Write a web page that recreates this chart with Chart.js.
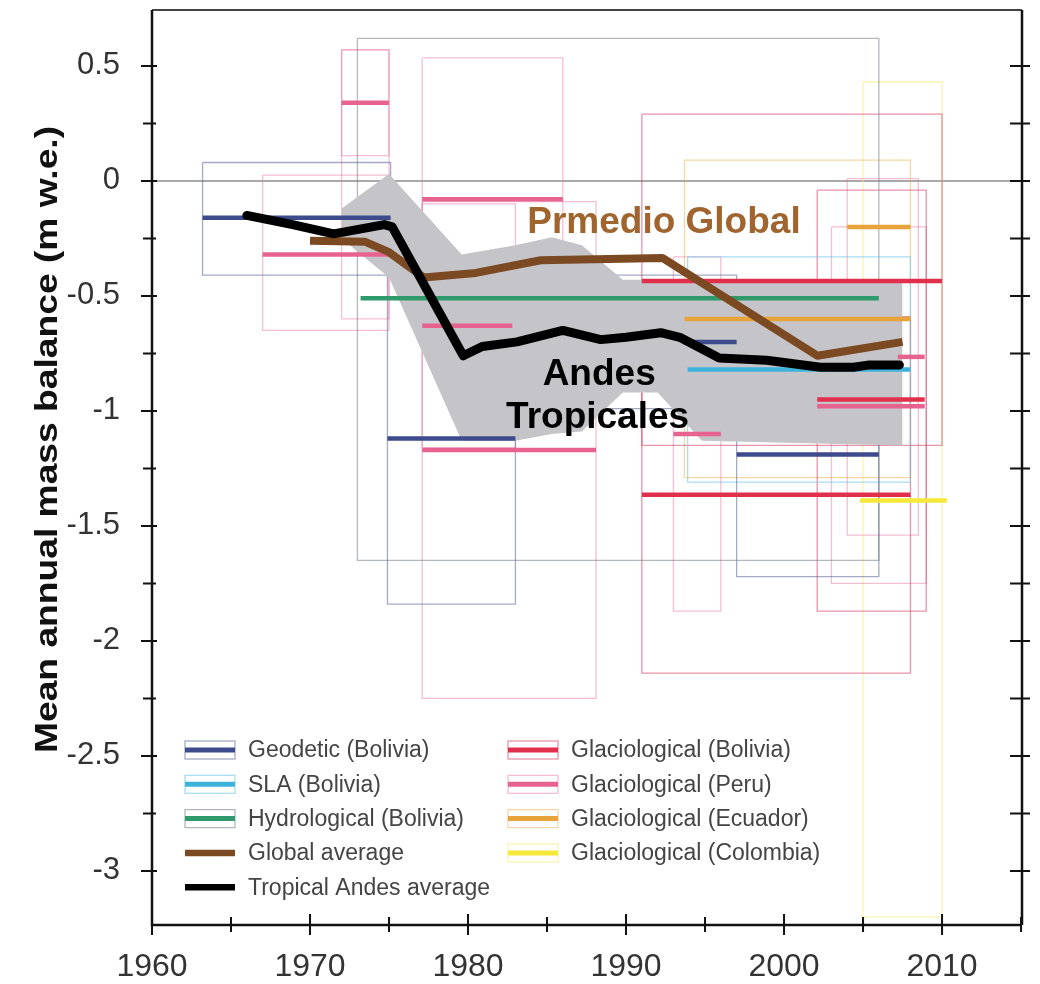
<!DOCTYPE html>
<html>
<head>
<meta charset="utf-8">
<title>Tropical Andes mass balance</title>
<script src="https://cdn.jsdelivr.net/npm/chart.js@4.4.0/dist/chart.umd.min.js"></script>
<style>
  html, body { margin: 0; padding: 0; background: #fff; }
  canvas { display: block; }
</style>
</head>
<body>
<canvas id="myChart" width="1040" height="984"></canvas>
<script>
// ---- data ----
const andesYears = [1966, 1968.9, 1971.5, 1974.7, 1975.2, 1979.7, 1980.9, 1983.1, 1986.0, 1988.4, 1990.0, 1992.2, 1993.4, 1995.9, 1998.9, 2002.3, 2004.4, 2005.4, 2007.3];
const andesValues = [-0.15, -0.19, -0.23, -0.19, -0.2, -0.76, -0.72, -0.70, -0.65, -0.69, -0.68, -0.66, -0.68, -0.77, -0.78, -0.81, -0.81, -0.80, -0.80];

const globalYears = [1970, 1973.5, 1975, 1977.2, 1980.5, 1984.6, 1992.3, 2002.1, 2007.5];
const globalValues = [-0.26, -0.265, -0.31, -0.42, -0.40, -0.345, -0.335, -0.76, -0.70];

// grey envelope around the Tropical Andes average
const bandYears = [1972, 1975, 1979.6, 1983, 1985.3, 1987.2, 1989.8, 1992, 1994.8, 2007.5];
const bandUpper = [-0.12, 0.03, -0.32, -0.28, -0.245, -0.28, -0.43, -0.43, -0.43, -0.43];
const bandLower = [-0.25, -0.42, -1.13, -1.13, -1.10, -1.09, -0.92, -0.92, -1.13, -1.15];

// mean value over each observation period
const segTypes = ["geodetic", "geodetic", "geodetic", "geodetic", "sla", "hydro",
  "glacBolivia", "glacBolivia", "glacBolivia",
  "glacPeru", "glacPeru", "glacPeru", "glacPeru", "glacPeru", "glacPeru", "glacPeru", "glacPeru",
  "glacEcuador", "glacEcuador", "glacColombia"];
const segStart = [1963.2, 1974.9, 1993.6, 1997.0, 1993.9, 1973.2,
  1991.0, 1991.0, 2002.1,
  1972.0, 1967.0, 1977.1, 1977.1, 1977.1, 1993.0, 2007.2, 2002.1,
  1993.7, 2004.0, 2004.8];
const segEnd = [1975.1, 1983.0, 1997.0, 2006.0, 2008.0, 2006.0,
  2010.0, 2008.0, 2008.9,
  1975.0, 1975.0, 1986.0, 1982.8, 1988.1, 1996.0, 2008.9, 2008.9,
  2008.0, 2008.0, 2010.3];
const segValue = [-0.16, -1.12, -0.70, -1.19, -0.82, -0.51,
  -0.435, -1.365, -0.95,
  0.34, -0.32, -0.08, -0.63, -1.17, -1.10, -0.765, -0.98,
  -0.60, -0.20, -1.39];

// uncertainty boxes
const boxTypes = ["geodetic", "geodetic", "geodetic", "geodetic", "sla", "hydro",
  "glacBolivia", "glacBolivia", "glacBolivia",
  "glacPeru", "glacPeru", "glacPeru", "glacPeru", "glacPeru", "glacPeru", "glacPeru", "glacPeru", "glacPeru",
  "glacEcuador", "glacColombia"];
const boxStart = [1963.2, 1974.9, 1983.0, 1997.0, 1993.9, 1973.0,
  1991.0, 1991.0, 2002.1,
  1972.0, 1972.0, 1967.0, 1977.1, 1977.1, 1977.1, 1993.0, 2004.0, 2003.0,
  1993.7, 2005.0];
const boxEnd = [1975.1, 1983.0, 1997.0, 2006.0, 2008.0, 2006.0,
  2010.0, 2008.0, 2009.0,
  1975.0, 1975.0, 1975.0, 1986.0, 1983.0, 1988.1, 1996.0, 2008.5, 2009.0,
  2008.0, 2010.0];
const boxTop = [0.08, -0.40, -0.41, -0.66, -0.33, 0.62,
  0.29, -0.59, -0.04,
  0.57, 0.57, 0.025, 0.535, -0.10, -0.09, -0.33, 0.01, -0.20,
  0.09, 0.43];
const boxBottom = [-0.41, -1.84, -0.99, -1.72, -1.31, -1.65,
  -1.15, -2.14, -1.87,
  0.11, -0.60, -0.65, -0.695, -1.16, -2.25, -1.87, -1.54, -1.75,
  -1.29, -3.20];

const xTicks = [1960, 1970, 1980, 1990, 2000, 2010];
const xTickLabels = ["1960", "1970", "1980", "1990", "2000", "2010"];
const xMinorTicks = [1965, 1975, 1985, 1995, 2005, 2015];
const yTicks = [-3, -2.5, -2, -1.5, -1, -0.5, 0, 0.5];
const yTickLabels = ["-3", "-2.5", "-2", "-1.5", "-1", "-0.5", "0", "0.5"];
const yMinorTicks = [0.25, -0.25, -0.75, -1.25, -1.75, -2.25, -2.75];

const legendTypes = ["geodetic", "sla", "hydro", "global", "andes", "glacBolivia", "glacPeru", "glacEcuador", "glacColombia"];
const legendLabels = ["Geodetic (Bolivia)", "SLA (Bolivia)", "Hydrological (Bolivia)", "Global average", "Tropical Andes average",
  "Glaciological (Bolivia)", "Glaciological (Peru)", "Glaciological (Ecuador)", "Glaciological (Colombia)"];

const annoTexts = ["Prmedio Global", "Andes", "Tropicales"];
const annoYears = [1992.4, 1988.3, 1988.2];
const annoValues = [-0.18, -0.843, -1.03];

const yTitle = "Mean annual mass balance (m w.e.)";

// ---- styles ----
const FONT = "'Liberation Sans', Arial, Helvetica, sans-serif";
const styles = {
  geodetic: { line: "#3d4a8c", box: "rgba(90,100,150,0.55)" },
  sla: { line: "#3db3dc", box: "rgba(110,200,230,0.6)" },
  hydro: { line: "#2f9a6c", box: "rgba(115,125,135,0.55)" },
  glacBolivia: { line: "#e0304c", box: "rgba(215,60,95,0.55)" },
  glacPeru: { line: "#e8628f", box: "rgba(230,110,160,0.45)" },
  glacEcuador: { line: "#e8a43a", box: "rgba(235,175,80,0.5)" },
  glacColombia: { line: "#f6e838", box: "rgba(245,236,120,0.6)" },
  global: { line: "#7b4a22" },
  andes: { line: "#000000" },
};
const annoColors = ["#a0652e", "#000000", "#000000"];

// ---- build datasets ----
const datasets = [];

datasets.push({
  label: "Tropical Andes average",
  data: andesYears.map((yr, i) => ({ x: yr, y: andesValues[i] })),
  borderColor: styles.andes.line,
  borderWidth: 9,
  borderCapStyle: "round",
  borderJoinStyle: "round",
  pointRadius: 0,
  fill: false,
  order: 0,
});

datasets.push({
  label: "Global average",
  data: globalYears.map((yr, i) => ({ x: yr, y: globalValues[i] })),
  borderColor: styles.global.line,
  borderWidth: 8,
  borderJoinStyle: "round",
  pointRadius: 0,
  fill: false,
  order: 1,
});

segTypes.forEach((type, i) => {
  datasets.push({
    label: type,
    data: [{ x: segStart[i], y: segValue[i] }, { x: segEnd[i], y: segValue[i] }],
    borderColor: styles[type].line,
    borderWidth: 4.5,
    pointRadius: 0,
    fill: false,
    order: 2,
  });
});

datasets.push({
  label: "band upper",
  data: bandYears.map((yr, i) => ({ x: yr, y: bandUpper[i] })),
  borderWidth: 0,
  borderColor: "rgba(0,0,0,0)",
  backgroundColor: "#c5c5c9",
  pointRadius: 0,
  fill: "+1",
  order: 4,
});
datasets.push({
  label: "band lower",
  data: bandYears.map((yr, i) => ({ x: yr, y: bandLower[i] })),
  borderWidth: 0,
  borderColor: "rgba(0,0,0,0)",
  pointRadius: 0,
  fill: false,
  order: 4,
});

boxTypes.forEach((type, i) => {
  const s = boxStart[i], e = boxEnd[i], t = boxTop[i], b = boxBottom[i];
  datasets.push({
    label: type + " box",
    data: [{ x: s, y: t }, { x: e, y: t }, { x: e, y: b }, { x: s, y: b }, { x: s, y: t }],
    borderColor: styles[type].box,
    borderWidth: 1.3,
    pointRadius: 0,
    fill: false,
    order: 5,
  });
});

// ---- axes, labels, legend drawn on top ----
const framePlugin = {
  id: "frame",
  beforeDatasetsDraw(chart) {
    const { ctx, chartArea: a, scales: { y } } = chart;
    const y0 = y.getPixelForValue(0);
    ctx.save();
    ctx.strokeStyle = "#8c8c8c";
    ctx.lineWidth = 1.5;
    ctx.beginPath();
    ctx.moveTo(a.left, y0);
    ctx.lineTo(a.right, y0);
    ctx.stroke();
    ctx.restore();
  },
  afterDatasetsDraw(chart) {
    const { ctx, chartArea: a, scales: { x, y } } = chart;
    ctx.save();

    // frame
    ctx.strokeStyle = "#444";
    ctx.lineWidth = 2;
    ctx.beginPath();
    ctx.moveTo(a.left, a.top);
    ctx.lineTo(a.right, a.top);
    ctx.stroke();

    ctx.strokeStyle = "#111";
    ctx.lineWidth = 2.5;
    ctx.beginPath();
    ctx.moveTo(a.left, a.top);
    ctx.lineTo(a.left, a.bottom);
    ctx.lineTo(a.right, a.bottom);
    ctx.moveTo(a.right, a.top);
    ctx.lineTo(a.right, a.bottom);
    ctx.stroke();

    // ticks
    ctx.lineWidth = 2;
    ctx.beginPath();
    yTicks.forEach((v) => {
      const py = y.getPixelForValue(v);
      ctx.moveTo(a.left - 11, py); ctx.lineTo(a.left + 5, py);
      ctx.moveTo(a.right - 12, py); ctx.lineTo(a.right + 8, py);
    });
    yMinorTicks.forEach((v) => {
      const py = y.getPixelForValue(v);
      ctx.moveTo(a.left - 9, py); ctx.lineTo(a.left + 4, py);
      ctx.moveTo(a.right - 12, py); ctx.lineTo(a.right + 8, py);
    });
    xTicks.forEach((v) => {
      const px = x.getPixelForValue(v);
      ctx.moveTo(px, a.bottom - 11); ctx.lineTo(px, a.bottom + 10);
    });
    xMinorTicks.forEach((v) => {
      const px = x.getPixelForValue(v);
      ctx.moveTo(px, a.bottom - 8); ctx.lineTo(px, a.bottom + 7);
    });
    ctx.stroke();

    // annotations
    ctx.font = "bold 37px " + FONT;
    ctx.textAlign = "center";
    ctx.textBaseline = "middle";
    annoTexts.forEach((txt, i) => {
      ctx.fillStyle = annoColors[i];
      ctx.fillText(txt, x.getPixelForValue(annoYears[i]), y.getPixelForValue(annoValues[i]));
    });

    // legend (two columns, inside the plot)
    const rowH = 34.3;
    const top = a.bottom - 175;
    ctx.font = "23px " + FONT;
    ctx.textAlign = "left";
    legendTypes.forEach((type, i) => {
      const col = i < 5 ? 0 : 1;
      const row = i < 5 ? i : i - 5;
      const sx = a.left + 33 + col * 323;
      const sy = top + row * rowH;
      const st = styles[type];
      if (st.box) {
        ctx.strokeStyle = st.box;
        ctx.lineWidth = 1.3;
        ctx.strokeRect(sx, sy - 9, 50, 18);
        ctx.strokeStyle = st.line;
        ctx.lineWidth = 5;
      } else {
        ctx.strokeStyle = st.line;
        ctx.lineWidth = 6.5;
      }
      ctx.beginPath();
      ctx.moveTo(sx, sy);
      ctx.lineTo(sx + 50, sy);
      ctx.stroke();
      ctx.fillStyle = "#444";
      ctx.fillText(legendLabels[i], sx + 63, sy + 1);
    });

    // y axis title, a little stretched like the original
    ctx.translate(48, (a.top + a.bottom) / 2 - 28);
    ctx.rotate(-Math.PI / 2);
    ctx.scale(1.2, 1);
    ctx.font = "bold 31px " + FONT;
    ctx.fillStyle = "#111";
    ctx.textAlign = "center";
    ctx.fillText(yTitle, 0, 0);

    ctx.restore();
  },
};

new Chart(document.getElementById("myChart"), {
  type: "line",
  data: { datasets: datasets },
  options: {
    responsive: false,
    animation: false,
    events: [],
    layout: { padding: { top: 10, right: 18, left: 0, bottom: 0 } },
    plugins: {
      legend: { display: false },
      tooltip: { enabled: false },
    },
    scales: {
      x: {
        type: "linear",
        min: 1960,
        max: 2015.06,
        grid: { display: false },
        border: { display: false },
        afterFit: (s) => { s.height = 59; s.paddingLeft = 0; s.paddingRight = 0; },
        afterBuildTicks: (s) => { s.ticks = xTicks.map((v) => ({ value: v })); },
        ticks: {
          padding: 15,
          maxRotation: 0,
          autoSkip: false,
          color: "#333",
          font: { family: FONT, size: 32 },
          callback: (v, i) => xTickLabels[i],
        },
      },
      y: {
        type: "linear",
        min: -3.235,
        max: 0.743,
        grid: { display: false },
        border: { display: false },
        afterFit: (s) => { s.width = 152; s.paddingTop = 0; s.paddingBottom = 0; },
        afterBuildTicks: (s) => { s.ticks = yTicks.map((v) => ({ value: v })); },
        ticks: {
          padding: 24,
          autoSkip: false,
          color: "#333",
          font: { family: FONT, size: 31 },
          callback: (v, i) => yTickLabels[i],
        },
      },
    },
  },
  plugins: [framePlugin],
});
</script>
</body>
</html>
